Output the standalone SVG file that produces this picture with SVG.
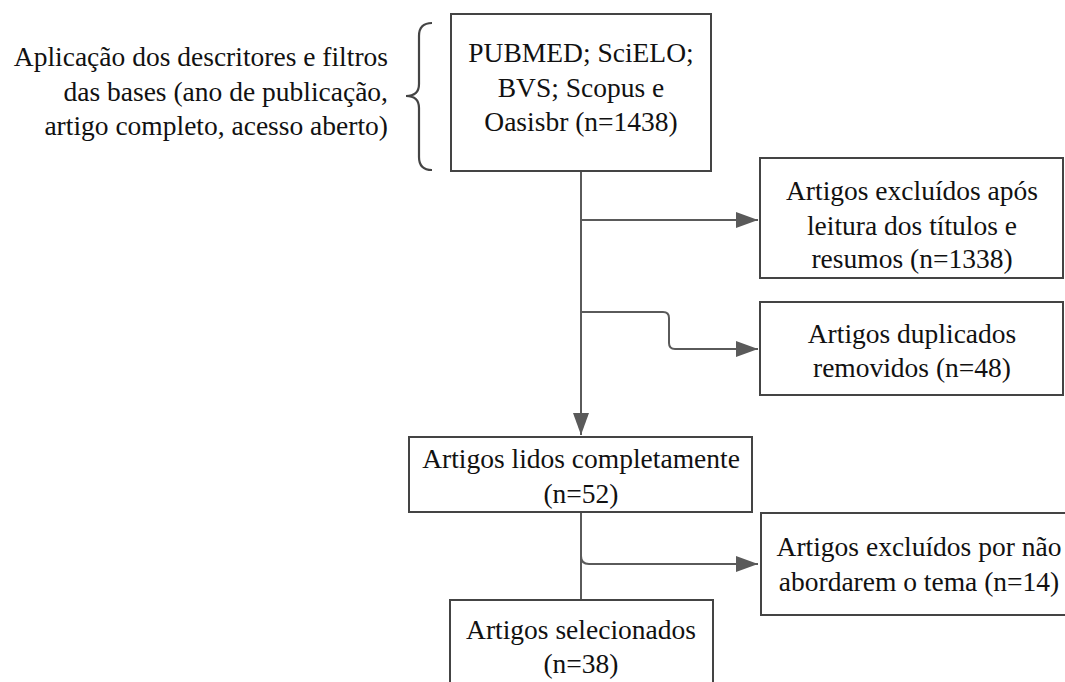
<svg xmlns="http://www.w3.org/2000/svg" width="1065" height="682" viewBox="0 0 1065 682">
<defs>
<style>
.box{fill:#fff;stroke:#444;stroke-width:2}
.t{font-family:"Liberation Serif","Times New Roman",serif;font-size:27.5px;fill:#111;text-anchor:middle}
.tr{font-family:"Liberation Serif","Times New Roman",serif;font-size:27.5px;fill:#111;text-anchor:end}
.c{fill:none;stroke:#5a5a5a;stroke-width:2}
.brace{fill:none;stroke:#444;stroke-width:2.2}
</style>
<marker id="ah" markerWidth="22" markerHeight="16" refX="22" refY="8" orient="auto" markerUnits="userSpaceOnUse">
<path d="M0,0 L22,8 L0,16 Z" fill="#5a5a5a"/>
</marker>
</defs>
<rect width="1065" height="682" fill="#fff"/>
<g id="note">
<text class="tr" x="388" y="66">Aplicação dos descritores e filtros</text>
<text class="tr" x="388" y="101">das bases (ano de publicação,</text>
<text class="tr" x="388" y="135">artigo completo, acesso aberto)</text>
<path class="brace" d="M432,23 Q419,23 419,36 V84 Q419,96 406,96 Q419,96 419,108 V157 Q419,170 432,170"/>
</g>
<g id="connectors">
<path class="c" d="M581,171 V435" marker-end="url(#ah)"/>
<path class="c" d="M581,220 H758" marker-end="url(#ah)"/>
<path class="c" d="M581,312 H663 Q669,312 669,318 V343 Q669,349 675,349 H758" marker-end="url(#ah)"/>
<path class="c" d="M581,512 V600"/>
<path class="c" d="M581,556 Q581,564 589,564 H758" marker-end="url(#ah)"/>
</g>
<g id="n1">
<rect class="box" x="451" y="14" width="260" height="157"/>
<text class="t" x="581" y="62">PUBMED; SciELO;</text>
<text class="t" x="581" y="97">BVS; Scopus e</text>
<text class="t" x="581" y="131">Oasisbr (n=1438)</text>
</g>
<g id="n2">
<rect class="box" x="760" y="158" width="303" height="120"/>
<text class="t" x="912" y="200">Artigos excluídos após</text>
<text class="t" x="912" y="235">leitura dos títulos e</text>
<text class="t" x="912" y="268">resumos (n=1338)</text>
</g>
<g id="n3">
<rect class="box" x="760" y="302" width="303" height="93"/>
<text class="t" x="912" y="343">Artigos duplicados</text>
<text class="t" x="912" y="377">removidos (n=48)</text>
</g>
<g id="n4">
<rect class="box" x="409" y="437" width="343" height="75"/>
<text class="t" x="581" y="468">Artigos lidos completamente</text>
<text class="t" x="581" y="503">(n=52)</text>
</g>
<g id="n5">
<rect class="box" x="761" y="513" width="316" height="102"/>
<text class="t" x="919" y="556">Artigos excluídos por não</text>
<text class="t" x="919" y="591">abordarem o tema (n=14)</text>
</g>
<g id="n6">
<rect class="box" x="450" y="600" width="263" height="110"/>
<text class="t" x="581" y="639">Artigos selecionados</text>
<text class="t" x="581" y="673">(n=38)</text>
</g>
</svg>
